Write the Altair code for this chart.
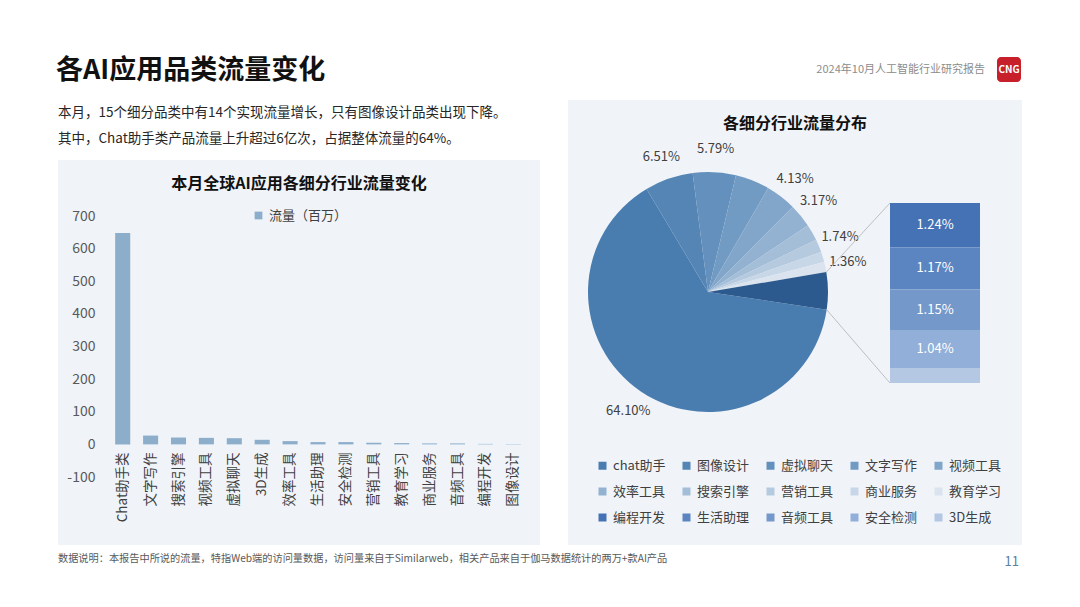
import math
import altair as alt
import pandas as pd

FONT = "Noto Sans CJK SC"

# ---------------- data ----------------
bar_cats = ["Chat助手类", "文字写作", "搜索引擎", "视频工具", "虚拟聊天", "3D生成", "效率工具",
            "生活助理", "安全检测", "营销工具", "教育学习", "商业服务", "音频工具", "编程开发", "图像设计"]
bar_vals = [648, 27, 21, 20, 19, 14, 10, 7, 7, 5, 4, 3, 3, 1.5, -1]
y_ticks = [-100, 0, 100, 200, 300, 400, 500, 600, 700]
bar_series = "流量（百万）"

pie_cats = ["chat助手", "图像设计", "虚拟聊天", "文字写作", "视频工具",
            "效率工具", "搜索引擎", "营销工具", "商业服务", "教育学习"]
pie_vals = [64.10, 6.51, 5.79, 4.60, 4.13, 3.17, 2.20, 1.74, 1.40, 1.36]
pie_labels = ["64.10%", "6.51%", "5.79%", "", "4.13%", "3.17%", "", "1.74%", "", "1.36%"]

sub_cats = ["编程开发", "生活助理", "音频工具", "安全检测", "3D生成"]
sub_vals = [1.24, 1.17, 1.15, 1.04, 0.42]
sub_labels = ["1.24%", "1.17%", "1.15%", "1.04%", ""]

other_name = "其他"

pie_colors = ["#4a7daf", "#5585b5", "#6390bd", "#729bc4", "#82a6ca",
              "#93b2d1", "#a4bed8", "#b5cadf", "#c8d7e7", "#dbe4ee"]
sub_colors = ["#4472b4", "#5b85c1", "#7598cb", "#91afd8", "#b4c8e4"]
other_color = "#2d5a8e"

# ---------------- layout constants ----------------
W, H = 1080, 607
CX, CY, R = 708, 292, 120
START = math.radians(98.5)
BAR_X0, BAR_X1, BAR_Y0, BAR_Y1 = 890, 980, 383, 203

one = pd.DataFrame({"k": [0]})


def txt(s, x, y, size, color, weight="normal", align="left", baseline="middle"):
    return alt.Chart(pd.DataFrame({"t": [s]})).mark_text(
        align=align, baseline=baseline, fontSize=size, color=color,
        fontWeight=weight, font=FONT
    ).encode(x=alt.value(x), y=alt.value(y), text="t:N")


def panel(x0, x1, y0, y1, color):
    return alt.Chart(one).mark_rect(color=color).encode(
        x=alt.value(x0), x2=alt.value(x1), y=alt.value(y0), y2=alt.value(y1))


# ---------------- background / header ----------------
left_panel = panel(58, 540, 160, 545, "#f0f4f9")
right_panel = panel(568, 1022, 100, 545, "#f0f4f9")

title = txt("各AI应用品类流量变化", 56, 71, 27, "#111111", weight="bold")
sub1 = txt("本月，15个细分品类中有14个实现流量增长，只有图像设计品类出现下降。", 58, 113, 13.5, "#262626")
sub2 = txt("其中，Chat助手类产品流量上升超过6亿次，占据整体流量的64%。", 58, 139, 13.5, "#262626")
header = txt("2024年10月人工智能行业研究报告", 985, 70, 11, "#8c8c8c", align="right")
logo = alt.Chart(one).mark_rect(color="#c8202b", cornerRadius=4).encode(
    x=alt.value(997), x2=alt.value(1021), y=alt.value(57), y2=alt.value(82))
logo_t = txt("CNG", 1009, 70, 10, "white", weight="bold", align="center")
footer = txt("数据说明：本报告中所说的流量，特指Web端的访问量数据，访问量来自于Similarweb，相关产品来自于伽马数据统计的两万+款AI产品",
             58, 559, 10.2, "#595959")
page = txt("11", 1019, 562, 13, "#5b7fa6", align="right")

# ---------------- left: bar chart ----------------
bar_df = pd.DataFrame({"cat": bar_cats, "val": bar_vals})
step = 27.9
c0 = 122.7
bars = alt.Chart(bar_df).transform_calculate(s=f"'{bar_series}'").mark_bar().encode(
    x=alt.X("cat:N", sort=bar_cats,
            scale=alt.Scale(range=[c0 - step / 2, c0 + step * (len(bar_cats) - 1) + step / 2],
                            paddingInner=0.46, paddingOuter=0.23),
            axis=alt.Axis(orient="bottom", offset=-(H - 445), labelAngle=-90, labelFontSize=13.5,
                          labelColor="#404040", labelFont=FONT, domain=False, ticks=False,
                          labelPadding=7, title=None, zindex=2)),
    y=alt.Y("val:Q", scale=alt.Scale(domain=[-100, 700], range=[477, 216], nice=False, zero=False),
            axis=alt.Axis(orient="left", values=y_ticks, offset=-100, labelPadding=5, ticks=False,
                          domain=False, grid=False, title=None, labelFontSize=14,
                          labelExpr="'' + datum.value",
                          labelColor="#595959", labelFont=FONT, zindex=2)),
    y2=alt.datum(0),
    color=alt.Color("s:N", scale=alt.Scale(domain=[bar_series], range=["#8daecb"]),
                    legend=alt.Legend(orient="none", legendX=252, legendY=209, title=None,
                                      symbolType="square", symbolSize=60, labelFontSize=13,
                                      labelColor="#404040", labelFont=FONT, padding=0)),
)
bar_title = txt("本月全球AI应用各细分行业流量变化", 299, 184, 16, "#111111", weight="bold", align="center")

# ---------------- right: pie + bar of pie ----------------
all_cats = pie_cats + sub_cats + [other_name]
all_colors = pie_colors + sub_colors + [other_color]
legend_cats = pie_cats + sub_cats

pie_df = pd.DataFrame({
    "cat": pie_cats + [other_name],
    "val": pie_vals + [round(sum(sub_vals), 2)],
    "lab": pie_labels + [""],
    "idx": list(range(len(pie_cats) + 1)),
})
theta = alt.Theta("val:Q", stack=True, scale=alt.Scale(range=[START, START + 2 * math.pi]))
order = alt.Order("idx:Q")
color_scale = alt.Scale(domain=all_cats, range=all_colors)

pie = alt.Chart(pie_df).mark_arc(outerRadius=R).encode(
    theta=theta, order=order, x=alt.value(CX), y=alt.value(CY),
    color=alt.Color("cat:N", scale=color_scale,
                    legend=alt.Legend(orient="none", legendX=596, legendY=459, title=None,
                                      values=legend_cats, columns=5, direction="horizontal",
                                      symbolType="square", symbolSize=64, labelFontSize=13,
                                      labelColor="#404040", labelFont=FONT, columnPadding=14,
                                      rowPadding=12, labelOffset=4, gridAlign="all",
                                      padding=0)),
)
pie_text = alt.Chart(pie_df).mark_text(radius=143, fontSize=13, color="#404040", font=FONT).encode(
    theta=theta, order=order, x=alt.value(CX), y=alt.value(CY), text="lab:N")

# connectors from the "other" slice to the stacked bar
tot = sum(pie_df["val"])
a_top = START + 2 * math.pi * (tot - pie_df["val"].iloc[-1]) / tot
a_bot = START + 2 * math.pi
conn_df = pd.DataFrame({
    "x": [CX + R * math.sin(a_top), CX + R * math.sin(a_bot)],
    "y": [CY - R * math.cos(a_top), CY - R * math.cos(a_bot)],
    "x2": [BAR_X0, BAR_X0], "y2": [BAR_Y1, BAR_Y0],
})
px = alt.Scale(domain=[0, W], range=[0, W])
py = alt.Scale(domain=[0, H], range=[0, H])
connectors = alt.Chart(conn_df).mark_rule(color="#bfbfbf", strokeWidth=1).encode(
    x=alt.X("x:Q", scale=px, axis=None), x2="x2:Q",
    y=alt.Y("y:Q", scale=py, axis=None), y2="y2:Q")

sub_df = pd.DataFrame({"cat": sub_cats, "val": sub_vals, "lab": sub_labels,
                       "idx": list(range(len(sub_cats)))})
sub_y = alt.Scale(domain=[0, sum(sub_vals)], range=[BAR_Y0, BAR_Y1], nice=False, zero=False)
sub_base = alt.Chart(sub_df).transform_stack(
    stack="val", groupby=[], as_=["v0", "v1"], sort=[alt.SortField("idx", order="descending")]
).transform_calculate(mid="(datum.v0 + datum.v1) / 2")
sub_bar = sub_base.mark_bar().encode(
    x=alt.value(BAR_X0), x2=alt.value(BAR_X1),
    y=alt.Y("v0:Q", scale=sub_y, axis=None), y2="v1:Q",
    color=alt.Color("cat:N", scale=color_scale, legend=None))
sub_text = sub_base.mark_text(color="white", fontSize=13, font=FONT).encode(
    x=alt.value((BAR_X0 + BAR_X1) / 2), y=alt.Y("mid:Q", scale=sub_y, axis=None), text="lab:N")

pie_title = txt("各细分行业流量分布", 795, 124, 16, "#111111", weight="bold", align="center")

chart = alt.layer(
    left_panel, right_panel, title, sub1, sub2, header, logo, logo_t, footer, page,
    bar_title, bars, pie_title, pie, pie_text, connectors, sub_bar, sub_text
).resolve_scale(
    x="independent", y="independent", color="independent", theta="independent"
).properties(
    width=W, height=H, autosize=alt.AutoSizeParams(type="none"), padding=0, background="white"
).configure_view(stroke=None)

chart.save("out.html", embed_options={"renderer": "svg", "actions": False})
